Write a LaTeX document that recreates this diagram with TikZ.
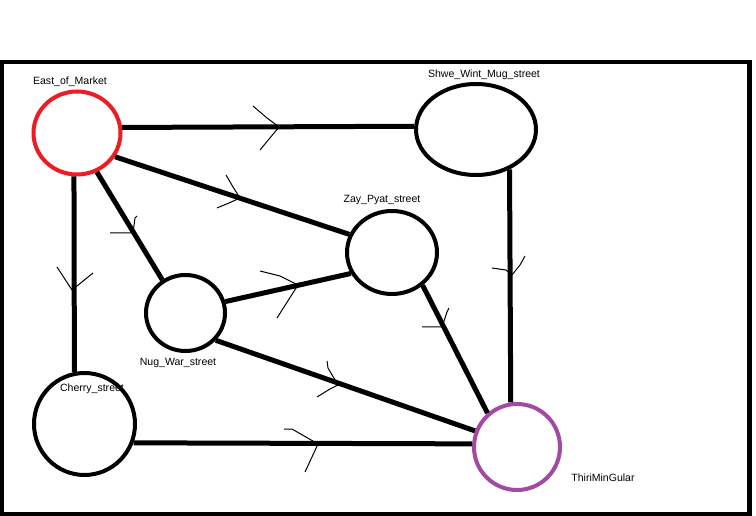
\documentclass[tikz,border=0pt]{standalone}
\usepackage{fontspec}
\setmainfont{Liberation Sans}
\usetikzlibrary{shapes.geometric}
\definecolor{paintred}{HTML}{ED1C24}
\definecolor{paintpurple}{HTML}{A349A4}
\begin{document}
\begin{tikzpicture}[x=0.75pt,y=-0.75pt,
  place/.style={ellipse,draw=black,line width=3pt,inner sep=0pt,fill=none},
  lbl/.style={inner sep=0pt,font=\fontsize{7.9}{9}\selectfont,text=black},
  road/.style={line width=3.75pt},
  chev/.style={line width=0.75pt,line join=round},
  frame/.style={line width=3.4pt}]
\useasboundingbox (0,0) rectangle (756,516);
\fill[white] (0,0) rectangle (756,516);
\draw[frame] (1.7,62) rectangle (749.5,514);
% labels (drawn first so circles cover them)
\node[lbl] (lE) at (70,82) {East\_of\_Market};
\node[lbl] (lS) at (484,75) {Shwe\_Wint\_Mug\_street};
\node[lbl] (lZ) at (382,200) {Zay\_Pyat\_street};
\node[lbl] (lN) at (178,363) {Nug\_War\_street};
\node[lbl] (lC) at (92,389) {Cherry\_street};
\node[lbl] (lT) at (603,478) {ThiriMinGular};
% places
\node[place,draw=paintred,minimum width=65.25pt,minimum height=62.25pt] (E) at (77,133) {};
\node[place,minimum width=90pt,minimum height=68.25pt] (S) at (476,129.5) {};
\node[place,minimum width=67.5pt,minimum height=62.25pt] (Z) at (392,252.5) {};
\node[place,minimum width=59.25pt,minimum height=57pt] (N) at (185.5,313) {};
\node[place,minimum width=75.75pt,minimum height=76.5pt] (C) at (84.5,424) {};
\node[place,draw=paintpurple,minimum width=64.5pt,minimum height=64.5pt] (T) at (517,447) {};
% roads
\draw[road] (E.7.4) -- (S.177.7);
\draw[road] (E.-32) -- (Z.157.6);
\draw[road] (E.-63.4) -- (N.125.5);
\draw[road] (E.-94) -- (C.101);
\draw[road] (N.16.8) -- (Z.207.7);
\draw[road] (N.-42.5) -- (T.159.4);
\draw[road] (Z.-47.3) -- (T.131.4);
\draw[road] (S.-50) -- (T.98.8);
\draw[road] (C.-21.6) -- (T.176);
% hand-drawn direction marks
\draw[chev] (253,106) -- (267,118) -- (279,127) -- (260,150);
\draw[chev] (57,267) -- (72,290) -- (93,273);
\draw[chev] (110,233) -- (133,233) -- (135,218) -- (137,216);
\draw[chev] (492,268) -- (506,270) -- (512,275) -- (520,265) -- (525,256);
\draw[chev] (422,327) -- (442,327) -- (447,312) -- (449,308);
\draw[chev] (226,175) -- (233,187) -- (240,198) -- (229,203) -- (217,208);
\draw[chev] (260,271) -- (280,276) -- (298,285) -- (277,318);
\draw[chev] (327,361) -- (328,368) -- (338,385) -- (330,389) -- (317,397);
\draw[chev] (284,429) -- (292,429) -- (318,444) -- (305,472);
\end{tikzpicture}
\end{document}
